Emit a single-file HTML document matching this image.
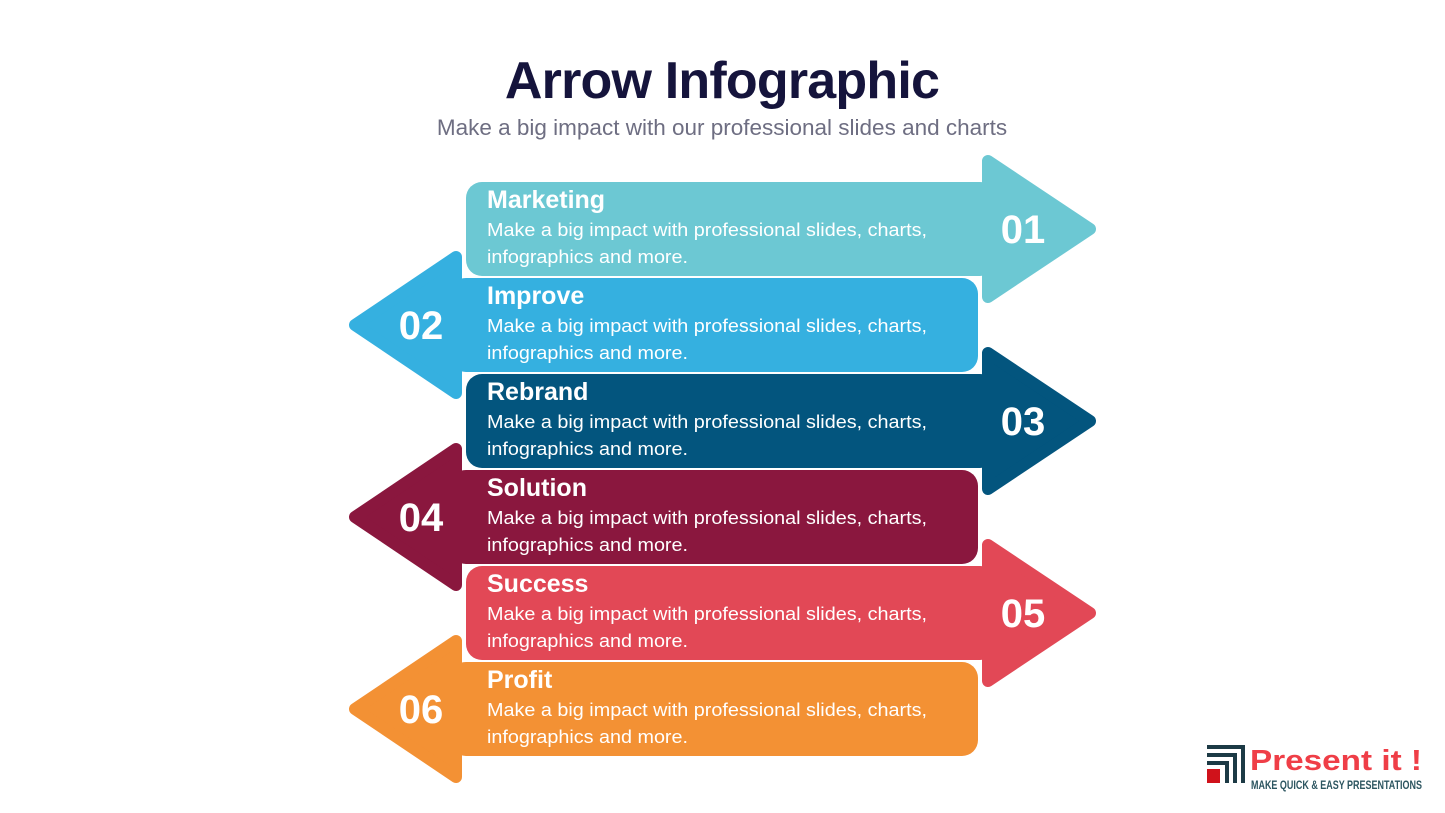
<!DOCTYPE html>
<html><head><meta charset="utf-8"><style>
html,body{margin:0;padding:0;background:#fff;}
body{width:1445px;height:813px;overflow:hidden;position:relative;font-family:"Liberation Sans",sans-serif;}
</style></head><body>
<svg width="1445" height="813" viewBox="0 0 1445 813" xmlns="http://www.w3.org/2000/svg" style="position:absolute;left:0;top:0">
<text x="722" y="98" text-anchor="middle" font-family="Liberation Sans" font-weight="bold" font-size="52" fill="#15143c" letter-spacing="-0.8">Arrow Infographic</text>
<text x="722" y="135" text-anchor="middle" font-family="Liberation Sans" font-size="22.5" fill="#6e6e82">Make a big impact with our professional slides and charts</text>
<g stroke-linejoin="round" stroke-width="12">
<g fill="#6cc8d3" stroke="#6cc8d3"><rect x="466" y="182" width="530" height="94" rx="16" stroke="none"/><path d="M988,161 L1090,229 L988,297 Z"/></g>
<g fill="#35b0e0" stroke="#35b0e0"><rect x="450" y="278" width="528" height="94" rx="16" stroke="none"/><path d="M456,257 L355,325 L456,393 Z"/></g>
<g fill="#03557e" stroke="#03557e"><rect x="466" y="374" width="530" height="94" rx="16" stroke="none"/><path d="M988,353 L1090,421 L988,489 Z"/></g>
<g fill="#8a173e" stroke="#8a173e"><rect x="450" y="470" width="528" height="94" rx="16" stroke="none"/><path d="M456,449 L355,517 L456,585 Z"/></g>
<g fill="#e24856" stroke="#e24856"><rect x="466" y="566" width="530" height="94" rx="16" stroke="none"/><path d="M988,545 L1090,613 L988,681 Z"/></g>
<g fill="#f39134" stroke="#f39134"><rect x="450" y="662" width="528" height="94" rx="16" stroke="none"/><path d="M456,641 L355,709 L456,777 Z"/></g>
</g>
<g fill="#fff" font-family="Liberation Sans">
<g font-weight="bold" font-size="25">
<text x="487" y="208">Marketing</text>
<text x="487" y="304">Improve</text>
<text x="487" y="400">Rebrand</text>
<text x="487" y="496">Solution</text>
<text x="487" y="592">Success</text>
<text x="487" y="688">Profit</text>
</g>
<g font-size="18">
<text x="487" y="236" textLength="440" lengthAdjust="spacingAndGlyphs">Make a big impact with professional slides, charts,</text>
<text x="487" y="263" textLength="201" lengthAdjust="spacingAndGlyphs">infographics and more.</text>
<text x="487" y="332" textLength="440" lengthAdjust="spacingAndGlyphs">Make a big impact with professional slides, charts,</text>
<text x="487" y="359" textLength="201" lengthAdjust="spacingAndGlyphs">infographics and more.</text>
<text x="487" y="428" textLength="440" lengthAdjust="spacingAndGlyphs">Make a big impact with professional slides, charts,</text>
<text x="487" y="455" textLength="201" lengthAdjust="spacingAndGlyphs">infographics and more.</text>
<text x="487" y="524" textLength="440" lengthAdjust="spacingAndGlyphs">Make a big impact with professional slides, charts,</text>
<text x="487" y="551" textLength="201" lengthAdjust="spacingAndGlyphs">infographics and more.</text>
<text x="487" y="620" textLength="440" lengthAdjust="spacingAndGlyphs">Make a big impact with professional slides, charts,</text>
<text x="487" y="647" textLength="201" lengthAdjust="spacingAndGlyphs">infographics and more.</text>
<text x="487" y="716" textLength="440" lengthAdjust="spacingAndGlyphs">Make a big impact with professional slides, charts,</text>
<text x="487" y="743" textLength="201" lengthAdjust="spacingAndGlyphs">infographics and more.</text>
</g>
<g font-weight="bold" font-size="40" text-anchor="middle">
<text x="1023" y="243">01</text>
<text x="421" y="339">02</text>
<text x="1023" y="435">03</text>
<text x="421" y="531">04</text>
<text x="1023" y="627">05</text>
<text x="421" y="723">06</text>
</g>
</g>
<g>
<rect x="1207" y="769" width="13" height="14" fill="#d0121b"/>
<path d="M1207,747 H1243 V783" fill="none" stroke="#1c3a45" stroke-width="4"/>
<path d="M1207,755 H1235 V783" fill="none" stroke="#1c3a45" stroke-width="4"/>
<path d="M1207,763 H1227 V783" fill="none" stroke="#1c3a45" stroke-width="4"/>
<text x="1250" y="770" font-family="Liberation Sans" font-weight="bold" font-size="29" fill="#ef3e47" textLength="172" lengthAdjust="spacingAndGlyphs">Present it !</text>
<text x="1251" y="789" font-family="Liberation Sans" font-weight="bold" font-size="11.5" fill="#2c5560" textLength="171" lengthAdjust="spacingAndGlyphs">MAKE QUICK &amp; EASY PRESENTATIONS</text>
</g>
</svg>
</body></html>
